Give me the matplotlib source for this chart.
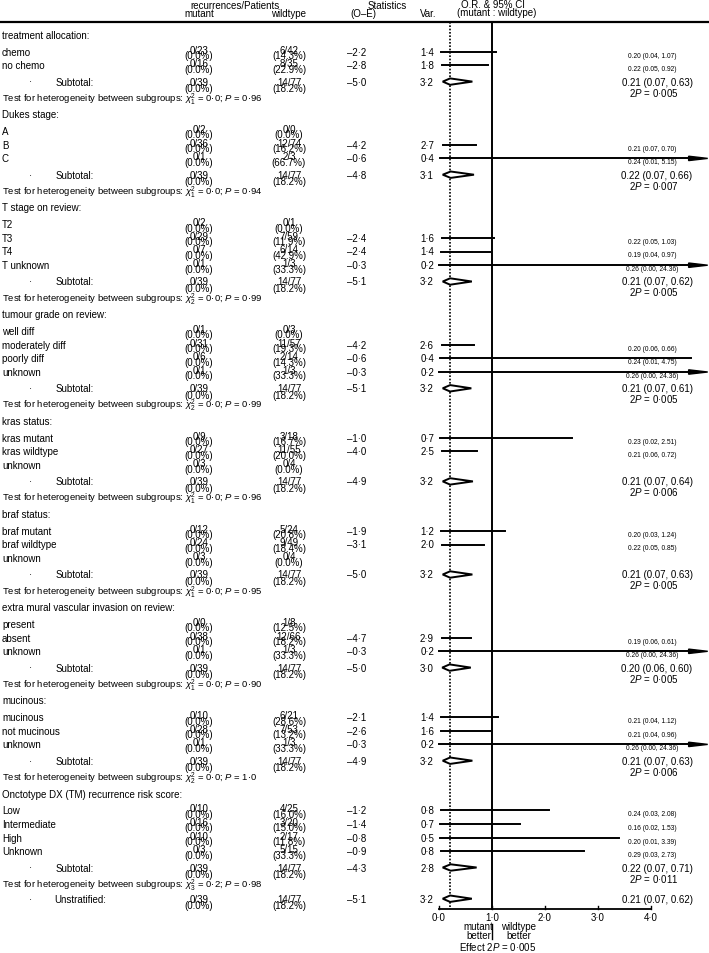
import matplotlib
matplotlib.use("Agg")
import matplotlib.pyplot as plt
from matplotlib import transforms
from matplotlib.patches import Polygon

plt.rcParams["font.family"] = ["Liberation Sans", "DejaVu Sans"]
plt.rcParams["mathtext.fontset"] = "custom"
plt.rcParams["mathtext.rm"] = "Liberation Sans"
plt.rcParams["mathtext.it"] = "Liberation Sans:italic"
plt.rcParams["mathtext.bf"] = "Liberation Sans:bold"

# ---- data -------------------------------------------------------------
section_titles = [
    "treatment allocation:",
    "Dukes stage:",
    "T stage on review:",
    "tumour grade on review:",
    "kras status:",
    "braf status:",
    "extra mural vascular invasion on review:",
    "mucinous:",
    "Onctotype DX (TM) recurrence risk score:",
]
row_labels = [
    ["chemo", "no chemo"],
    ["A", "B", "C"],
    ["T2", "T3", "T4", "T unknown"],
    ["well diff", "moderately diff", "poorly diff", "unknown"],
    ["kras mutant", "kras wildtype", "unknown"],
    ["braf mutant", "braf wildtype", "unknown"],
    ["present", "absent", "unknown"],
    ["mucinous", "not mucinous", "unknown"],
    ["Low", "Intermediate", "High", "Unknown"],
]
mutant_events = [[0, 0], [0, 0, 0], [0, 0, 0, 0], [0, 0, 0, 0], [0, 0, 0],
                 [0, 0, 0], [0, 0, 0], [0, 0, 0], [0, 0, 0, 0]]
mutant_total = [[23, 16], [2, 36, 1], [2, 29, 7, 1], [1, 31, 6, 1], [9, 27, 3],
                [12, 24, 3], [0, 38, 1], [10, 28, 1], [10, 16, 10, 3]]
wild_events = [[6, 8], [0, 12, 2], [0, 7, 6, 1], [0, 11, 2, 1], [3, 11, 0],
               [5, 9, 0], [1, 12, 1], [6, 7, 1], [4, 3, 2, 5]]
wild_total = [[42, 35], [0, 74, 3], [1, 59, 14, 3], [3, 57, 14, 3], [18, 55, 4],
              [24, 49, 4], [8, 66, 3], [21, 53, 3], [25, 20, 17, 15]]
o_minus_e = [[-2.2, -2.8], [None, -4.2, -0.6], [None, -2.4, -2.4, -0.3],
             [None, -4.2, -0.6, -0.3], [-1.0, -4.0, None], [-1.9, -3.1, None],
             [None, -4.7, -0.3], [-2.1, -2.6, -0.3], [-1.2, -1.4, -0.8, -0.9]]
variance = [[1.4, 1.8], [None, 2.7, 0.4], [None, 1.6, 1.4, 0.2],
            [None, 2.6, 0.4, 0.2], [0.7, 2.5, None], [1.2, 2.0, None],
            [None, 2.9, 0.2], [1.4, 1.6, 0.2], [0.8, 0.7, 0.5, 0.8]]
odds_ratio = [[0.20, 0.22], [None, 0.21, 0.24], [None, 0.22, 0.19, 0.26],
              [None, 0.20, 0.24, 0.26], [0.23, 0.21, None], [0.20, 0.22, None],
              [None, 0.19, 0.26], [0.21, 0.21, 0.26], [0.24, 0.16, 0.20, 0.29]]
ci_low = [[0.04, 0.05], [None, 0.07, 0.01], [None, 0.05, 0.04, 0.00],
          [None, 0.06, 0.01, 0.00], [0.02, 0.06, None], [0.03, 0.05, None],
          [None, 0.06, 0.00], [0.04, 0.04, 0.00], [0.03, 0.02, 0.01, 0.03]]
ci_high = [[1.07, 0.92], [None, 0.70, 5.15], [None, 1.03, 0.97, 24.36],
           [None, 0.66, 4.75, 24.36], [2.51, 0.72, None], [1.24, 0.85, None],
           [None, 0.61, 24.36], [1.12, 0.96, 24.36], [2.08, 1.53, 3.39, 2.73]]

sub_mut = (0, 39)
sub_wild = (14, 77)
sub_oe = [-5.0, -4.8, -5.1, -5.1, -4.9, -5.0, -5.0, -4.9, -4.3]
sub_var = [3.2, 3.1, 3.2, 3.2, 3.2, 3.2, 3.0, 3.2, 2.8]
sub_or = [0.21, 0.22, 0.21, 0.21, 0.21, 0.21, 0.20, 0.21, 0.22]
sub_lo = [0.07, 0.07, 0.07, 0.07, 0.07, 0.07, 0.06, 0.07, 0.07]
sub_hi = [0.63, 0.66, 0.62, 0.61, 0.64, 0.63, 0.60, 0.63, 0.71]
sub_p = [0.005, 0.007, 0.005, 0.005, 0.006, 0.005, 0.005, 0.006, 0.011]

het_df = [1, 1, 2, 2, 1, 1, 1, 2, 3]
het_chi = [0.0, 0.0, 0.0, 0.0, 0.0, 0.0, 0.0, 0.0, 0.2]
het_p = ["0·96", "0·94", "0·99", "0·99", "0·96", "0·95", "0·90", "1·0", "0·98"]

total_oe, total_var = -5.1, 3.2
total_or, total_lo, total_hi = 0.21, 0.07, 0.62
total_p = 0.005
axis_ticks = [0, 1, 2, 3, 4]

# ---- layout (pixels) --------------------------------------------------
W, H = 709, 954
OR0_PX, PX_PER_UNIT = 439, 53
FS, FS_TEST, FS_SMALL = 7.0, 6.8, 4.8
HEAD_LINE = 23
FIRST_HEAD = 36
GAP_HEAD, GAP_ROW, GAP_SUB, GAP_TEST, GAP_NEXT = 16.6, 13.7, 16.3, 16.2, 16.6
ARROW_TIP = 5.07


def num(v):
    s = f"{abs(v):.1f}".replace(".", "·")
    return ("–" + s) if v < 0 else s


def pct(e, n):
    return f"({(100.0 * e / n) if n else 0.0:.1f}%)"


fig = plt.figure(figsize=(W / 100, H / 100), dpi=100)
ax = fig.add_axes([0, 0, 1, 1])
ax.set_xlim(-OR0_PX / PX_PER_UNIT, (W - OR0_PX) / PX_PER_UNIT)
ax.set_ylim(H, 0)
ax.axis("off")
tt = transforms.blended_transform_factory(ax.transAxes, ax.transData)


def txt(xpx, y, s, ha="left", size=FS, **kw):
    ax.text(xpx / W, y, s, transform=tt, ha=ha, va="center", fontsize=size, **kw)


def counts(y, e1, n1, e2, n2, sub=False):
    d1, d2 = (0, 6.5) if sub else (-2, 3.5)
    txt(199, y + d1, f"{e1}/{n1}", ha="center")
    txt(199, y + d2, pct(e1, n1), ha="center")
    txt(289, y + d1, f"{e2}/{n2}", ha="center")
    txt(289, y + d2, pct(e2, n2), ha="center")


def stats(y, oe, var):
    txt(366, y, num(oe), ha="right")
    txt(434, y, num(var), ha="right")


def diamond(y, est, lo, hi):
    ax.add_patch(Polygon([(lo, y), (est, y - 3.2), (hi, y), (est, y + 3.2)],
                         closed=True, facecolor="white", edgecolor="black",
                         lw=1.4, zorder=4))


# header
txt(235, 6, "recurrences/Patients", ha="center")
txt(199, 14, "mutant", ha="center")
txt(289, 14, "wildtype", ha="center")
txt(387, 6, "Statistics", ha="center")
txt(363, 14, "(O–E)", ha="center")
txt(428, 14, "Var.", ha="center")
txt(493, 5, "O.R. & 95% CI", ha="center")
txt(497, 13, "(mutant : wildtype)", ha="center")
ax.axhline(HEAD_LINE, color="black", lw=1.6)

y = FIRST_HEAD
for i, title in enumerate(section_titles):
    txt(2, y, title)
    y += GAP_HEAD
    for j, lab in enumerate(row_labels[i]):
        if j:
            y += GAP_ROW
        txt(2, y, lab)
        counts(y, mutant_events[i][j], mutant_total[i][j],
               wild_events[i][j], wild_total[i][j])
        if odds_ratio[i][j] is not None:
            stats(y, o_minus_e[i][j], variance[i][j])
            lo, hi = ci_low[i][j], ci_high[i][j]
            if hi > ARROW_TIP:
                ax.plot([lo, ARROW_TIP - 0.3], [y, y], color="black", lw=1.4, zorder=3)
                ax.add_patch(Polygon([(ARROW_TIP - 0.36, y - 2.2), (ARROW_TIP, y),
                                      (ARROW_TIP - 0.36, y + 2.2)],
                                     closed=True, color="black", zorder=3))
            else:
                ax.plot([lo, hi], [y, y], color="black", lw=1.4, zorder=3)
            txt(652, y + 3.5,
                f"{odds_ratio[i][j]:.2f} ({lo:.2f}, {hi:.2f})",
                ha="center", size=FS_SMALL)
    y += GAP_SUB
    txt(30, y, "·", ha="center")
    txt(56, y, "Subtotal:")
    counts(y, *sub_mut, *sub_wild, sub=True)
    stats(y, sub_oe[i], sub_var[i])
    diamond(y, sub_or[i], sub_lo[i], sub_hi[i])
    txt(657, y, f"{sub_or[i]:.2f} ({sub_lo[i]:.2f}, {sub_hi[i]:.2f})", ha="center")
    txt(654, y + 10, f"2$P$ = {sub_p[i]:.3f}".replace(".", "·"), ha="center")
    y += GAP_TEST
    txt(2, y, "Test for heterogeneity between subgroups: "
        f"$\\chi^2_{{{het_df[i]}}}$ = {num(het_chi[i])}; $P$ = {het_p[i]}",
        size=FS_TEST)
    if i < len(section_titles) - 1:
        y += GAP_NEXT

y += 15
txt(30, y, "·", ha="center")
txt(54, y, "Unstratified:")
counts(y, *sub_mut, *sub_wild, sub=True)
stats(y, total_oe, total_var)
diamond(y, total_or, total_lo, total_hi)
txt(657, y, f"{total_or:.2f} ({total_lo:.2f}, {total_hi:.2f})", ha="center")

axis_y = y + 10
ax.plot([1, 1], [HEAD_LINE, axis_y], color="black", lw=1.4, zorder=2)
ax.plot([total_or, total_or], [HEAD_LINE, axis_y], color="black", lw=1.2,
        ls=(0, (1, 1)), zorder=2)
ax.plot([axis_ticks[0], axis_ticks[-1]], [axis_y, axis_y], color="black", lw=1.3)
for t in axis_ticks:
    ax.plot([t, t], [axis_y, axis_y - 3], color="black", lw=1.0)
    ax.text(t, axis_y + 8.5, f"{t:.1f}".replace(".", "·"), ha="center",
            va="center", fontsize=FS)

ax.text(0.75, axis_y + 22, "mutant\nbetter", ha="center", va="center",
        fontsize=FS, linespacing=0.85)
ax.text(1.5, axis_y + 22, "wildtype\nbetter", ha="center", va="center",
        fontsize=FS, linespacing=0.85)
ax.plot([1, 1], [axis_y + 15, axis_y + 30], color="black", lw=1.0)
ax.text(1.1, axis_y + 37, f"Effect 2$P$ = {total_p:.3f}".replace(".", "·"),
        ha="center", va="center", fontsize=FS)

fig.savefig("out.png", dpi=100)
